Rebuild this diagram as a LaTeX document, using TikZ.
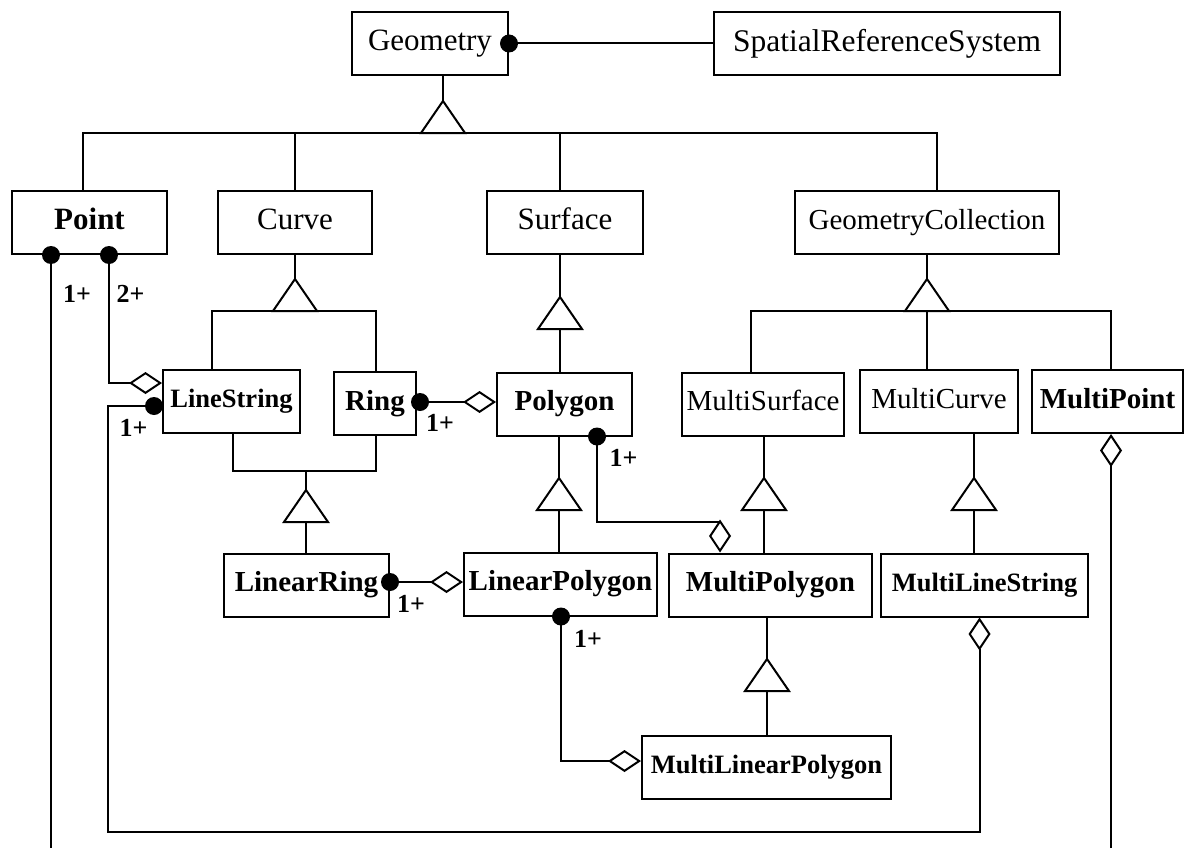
\documentclass[tikz,border=0pt]{standalone}
\usepackage{fontspec}
\setmainfont{Liberation Serif}
\usetikzlibrary{arrows.meta}
\begin{document}
\begin{tikzpicture}[x=1pt,y=-1pt,line width=2pt,
  cls/.style={draw,line width=2pt,inner sep=0pt,minimum height=63pt},
  big/.style={font=\fontsize{31}{31}\selectfont,text height=22.3pt,text depth=7.4pt},
  bigb/.style={font=\fontsize{31}{31}\selectfont\bfseries,text height=22.3pt,text depth=7.4pt},
  mid/.style={font=\fontsize{29}{29}\selectfont,text height=20.9pt,text depth=7pt},
  midb/.style={font=\fontsize{29}{29}\selectfont\bfseries,text height=20.9pt,text depth=7pt},
  smallb/.style={font=\fontsize{26.5}{26.5}\selectfont\bfseries,text height=19.1pt,text depth=6.4pt},
  mult/.style={font=\fontsize{26}{26}\selectfont\bfseries,inner sep=0pt},
  agg/.style={-{Diamond[fill=white,length=33pt,width=22pt]}},
  dot/.style={fill=black},
  gen/.pic={
    \coordinate (-apex) at (0,0);
    \coordinate (-base) at (0,32);
    \draw[line width=2pt,fill=white] (0,0) -- (22,32) -- (-22,32) -- cycle;
  }]
\useasboundingbox (0,0) rectangle (1185,848);

% classes
\node[cls,big,minimum width=156pt] (geo) at (430,43.5) {Geometry};
\node[cls,minimum width=346pt,font=\fontsize{31.5}{31.5}\selectfont,text height=22.6pt,text depth=7.5pt] (srs) at (887,43.5) {SpatialReferenceSystem};
\node[cls,bigb,minimum width=155pt] (point) at (89.5,222.5) {Point};
\node[cls,big,minimum width=154pt] (curve) at (295,222.5) {Curve};
\node[cls,big,minimum width=156pt] (surface) at (565,222.5) {Surface};
\node[cls,mid,minimum width=264pt] (gcoll) at (927,222.5) {GeometryCollection};
\node[cls,smallb,minimum width=137pt] (ls) at (231.5,401.5) {LineString};
\node[cls,midb,minimum width=82pt] (ring) at (375,403.5) {Ring};
\node[cls,midb,minimum width=135pt] (poly) at (564.5,404) {Polygon};
\node[cls,mid,minimum width=162pt] (msurf) at (763,404) {MultiSurface};
\node[cls,mid,minimum width=158pt] (mcurve) at (939,401.5) {MultiCurve};
\node[cls,midb,minimum width=151pt] (mpoint) at (1107.5,401.5) {MultiPoint};
\node[cls,midb,minimum width=165pt] (lring) at (306.5,585) {LinearRing};
\node[cls,midb,minimum width=193pt] (lpoly) at (560.5,584) {LinearPolygon};
\node[cls,midb,minimum width=203pt] (mpoly) at (770.5,585) {MultiPolygon};
\node[cls,smallb,minimum width=207pt] (mls) at (984.5,585) {MultiLineString};
\node[cls,smallb,minimum width=249pt] (mlpoly) at (766.5,767) {MultiLinearPolygon};

% bends and bus bars
\coordinate (busA) at (83,133);
\coordinate (busB) at (937,133);
\coordinate (cbA) at (212,311);
\coordinate (cbB) at (376,311);
\coordinate (gbA) at (751,311);
\coordinate (gbB) at (1111,311);
\coordinate (rbA) at (233,471);
\coordinate (rbB) at (376,471);
\coordinate (loopA) at (108,832);
\coordinate (pmTurn) at (720,522);
\coordinate (edgeB) at (0,848);

% generalization
\draw (geo.east) -- (srs.west);
\draw (point.north -| busA) |- (busB) -- (gcoll.north -| busB);
\draw (curve.north) -- (curve.north |- busA);
\draw (surface.north -| 560,0) -- (560,133);
\draw (443,75) -- (443,101);
\draw (curve.south) -- (295,279);
\draw (ls.north -| cbA) |- (cbB) -- (ring.north -| cbB);
\draw (surface.south -| 560,0) -- (560,297);
\draw (560,329) -- (poly.north -| 560,0);
\draw (gcoll.south -| 927,0) -- (927,279);
\draw (msurf.north -| gbA) |- (gbB) -- (mpoint.north -| gbB);
\draw (927,311) -- (mcurve.north -| 927,0);
\draw (ls.south -| rbA) |- (rbB) -- (ring.south -| rbB);
\draw (306,471) -- (306,490);
\draw (306,522) -- (lring.north -| 306,0);
\draw (poly.south -| 559,0) -- (559,478);
\draw (559,510) -- (lpoly.north -| 559,0);
\draw (msurf.south -| 764,0) -- (764,478);
\draw (764,510) -- (mpoly.north -| 764,0);
\draw (mcurve.south -| 974,0) -- (974,478);
\draw (974,510) -- (mls.north -| 974,0);
\draw (mpoly.south -| 767,0) -- (767,659);
\draw (767,691) -- (mlpoly.north -| 767,0);

\pic (t1) at (443,101) {gen};
\pic (t2) at (295,279) {gen};
\pic (t3) at (560,297) {gen};
\pic (t4) at (927,279) {gen};
\pic (t5) at (306,490) {gen};
\pic (t6) at (559,478) {gen};
\pic (t7) at (764,478) {gen};
\pic (t8) at (974,478) {gen};
\pic (t9) at (767,659) {gen};

% aggregation
\coordinate (ptDotA) at ([xshift=-38.5pt]point.south);
\coordinate (ptDotB) at ([xshift=19.5pt]point.south);
\coordinate (lsIn) at ([yshift=18.5pt]ls.west);
\coordinate (lsDot) at ([xshift=-8pt,yshift=-4.5pt]ls.west);
\coordinate (mlsIn) at ([xshift=-5pt]mls.south);
\coordinate (mpIn) at ([xshift=3.5pt]mpoint.south);
\coordinate (ringDot) at ([yshift=1.5pt]ring.east);
\coordinate (polyDot) at ([xshift=32.5pt]poly.south);
\coordinate (lrDot) at ([yshift=3pt]lring.east);
\coordinate (lpDot) at ([xshift=0.5pt]lpoly.south);
\coordinate (mlpIn) at ([yshift=6pt]mlpoly.west);

\draw[agg] (ptDotB) |- (lsIn);
\draw[agg] (lsDot) -| (loopA) -| (mlsIn);
\draw (ptDotA) -- (ptDotA |- edgeB);
\draw[agg] (mpIn |- edgeB) -- (mpIn);
\draw[agg] (ringDot) -- (ringDot -| poly.west);
\draw[agg] (polyDot) |- (pmTurn) -- (mpoly.north -| pmTurn);
\draw[agg] (lrDot) -- (lrDot -| lpoly.west);
\draw[agg] (lpDot) |- (mlpIn);

\fill[dot] (geo.east) circle[radius=9pt];
\fill[dot] (ptDotA) circle[radius=9pt];
\fill[dot] (ptDotB) circle[radius=9pt];
\fill[dot] (lsDot) circle[radius=9pt];
\fill[dot] ([xshift=3pt]ringDot) circle[radius=9pt];
\fill[dot] (polyDot) circle[radius=9pt];
\fill[dot] (lrDot) circle[radius=9pt];
\fill[dot] (lpDot) circle[radius=9pt];

% multiplicities
\node[mult] (m1) at (77,293.5) {1+};
\node[mult] (m2) at (130.5,293.5) {2+};
\node[mult] (m3) at (133.5,428) {1+};
\node[mult] (m4) at (440,423) {1+};
\node[mult] (m5) at (623.5,458) {1+};
\node[mult] (m6) at (411,603.5) {1+};
\node[mult] (m7) at (588,638.5) {1+};
\end{tikzpicture}
\end{document}
